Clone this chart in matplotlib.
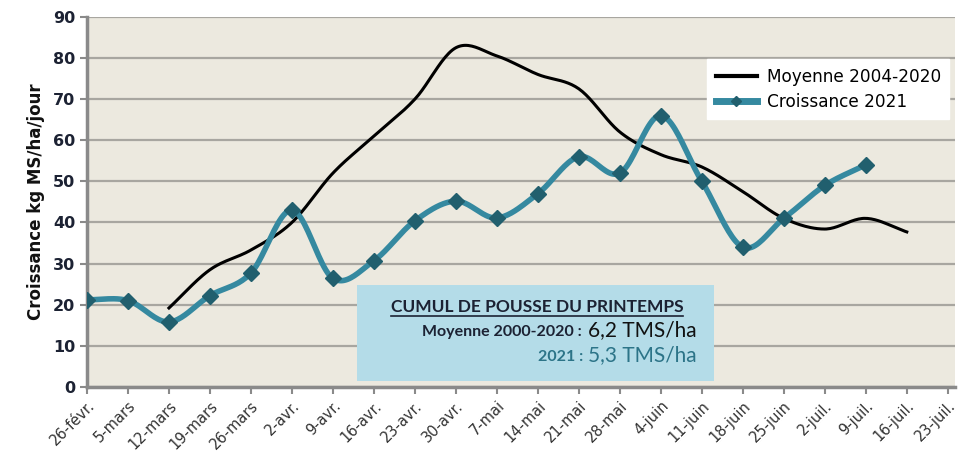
import matplotlib
matplotlib.use("Agg")
import matplotlib.pyplot as plt
from matplotlib.lines import Line2D
import numpy as np

dates = ["26-févr.", "5-mars", "12-mars", "19-mars", "26-mars", "2-avr.", "9-avr.",
         "16-avr.", "23-avr.", "30-avr.", "7-mai", "14-mai", "21-mai", "28-mai",
         "4-juin", "11-juin", "18-juin", "25-juin", "2-juil.", "9-juil.", "16-juil.",
         "23-juil."]

# moyenne 2004-2020, starts at 12-mars
moy_start = 2
moyenne = [19.2, 28.5, 33.3, 40, 52, 61, 70, 82.5, 80.5, 76, 72.5, 62, 56.5, 53.5,
           47.5, 41, 38.4, 41, 37.7]

# croissance 2021, starts at 26-févr.
croissance = [21.2, 21, 15.8, 22.2, 27.7, 43, 26.4, 30.7, 40.4, 45.2, 41.1, 47, 56,
              52, 66, 50, 34, 41, 49, 54]


def smooth(x, y, n=24):
    # catmull-rom, roughly like excel's smoothed lines
    x = np.asarray(x, float)
    y = np.asarray(y, float)
    px = np.concatenate([[2 * x[0] - x[1]], x, [2 * x[-1] - x[-2]]])
    py = np.concatenate([[2 * y[0] - y[1]], y, [2 * y[-1] - y[-2]]])
    xs, ys = [], []
    t = np.linspace(0, 1, n)
    for i in range(1, len(px) - 2):
        for p, out in ((px, xs), (py, ys)):
            p0, p1, p2, p3 = p[i - 1], p[i], p[i + 1], p[i + 2]
            out.extend(0.5 * ((2 * p1) + (-p0 + p2) * t
                              + (2 * p0 - 5 * p1 + 4 * p2 - p3) * t ** 2
                              + (-p0 + 3 * p1 - 3 * p2 + p3) * t ** 3))
    return np.array(xs), np.array(ys)


fig = plt.figure(figsize=(9.61, 4.69), dpi=100)
ax = fig.add_axes([0.0905, 0.175, 0.903, 0.789])
ax.set_facecolor("#ece9df")

xm = np.arange(moy_start, moy_start + len(moyenne))
xc = np.arange(len(croissance))

sx, sy = smooth(xm, moyenne)
ax.plot(sx, sy, color="black", lw=2.2, zorder=3)
sx, sy = smooth(xc, croissance)
ax.plot(sx, sy, color="#3589a0", lw=4, zorder=4)
ax.plot(xc, croissance, ls="none", marker="D", ms=8, color="#215f6e", zorder=5)

ax.set_xlim(0, 21.17)
ax.set_ylim(0, 90)
ax.set_yticks(range(0, 91, 10))
ax.set_xticks(range(len(dates)))
ax.set_xticklabels(dates, rotation=45, ha="right", rotation_mode="anchor",
                   fontsize=10.5, color="#333333")
for lab in ax.get_yticklabels():
    lab.set_fontweight("bold")
    lab.set_fontsize(11.5)
    lab.set_color("#1c2233")
ax.grid(axis="y", color="#a8a6a0", lw=1.6, zorder=1)
ax.set_axisbelow(True)
for s in ("top", "right"):
    ax.spines[s].set_visible(False)
for s in ("left", "bottom"):
    ax.spines[s].set_color("#8a8a8a")
    ax.spines[s].set_linewidth(2.5)
ax.tick_params(axis="both", color="#8a8a8a", width=1.5, length=5)
ax.tick_params(axis="x", pad=3)

ax.set_ylabel("Croissance kg MS/ha/jour", fontsize=12, fontweight="bold",
              color="#111111", labelpad=6)

# legend
h1 = Line2D([], [], color="black", lw=3)
h2 = Line2D([], [], color="#3589a0", lw=5, marker="D", ms=5,
            markerfacecolor="#215f6e", markeredgecolor="#215f6e")
leg = fig.legend([h1, h2], ["Moyenne 2004-2020", "Croissance 2021"],
                 loc="upper left", bbox_to_anchor=(699 / 961, 1 - 51 / 469),
                 fontsize=12.2, frameon=True, fancybox=False, edgecolor="white",
                 framealpha=1, handlelength=2.4, handletextpad=0.6,
                 borderpad=0.5, labelspacing=0.4)

# cumul box
bx0, by0 = 357 / 961, 1 - 381 / 469
bw, bh = (714 - 357) / 961, (381 - 285) / 469
fig.patches.append(plt.Rectangle((bx0, by0), bw, bh, transform=fig.transFigure,
                                 facecolor="#b4dce8", edgecolor="none", zorder=6))
fnt = ["Lato", "DejaVu Sans"]
t = fig.text(537 / 961, 1 - 307 / 469, "CUMUL DE POUSSE DU PRINTEMPS", family=fnt,
             fontsize=12.5, fontweight="bold", color="#1c2233", ha="center",
             va="center", zorder=7)
fig.add_artist(Line2D([391 / 961, 683 / 961], [1 - 316 / 469, 1 - 316 / 469],
                      color="#1c2233", lw=1.2, zorder=7))
v1 = fig.text(697 / 961, 1 - 330 / 469, "6,2 TMS/ha", family=fnt, fontsize=15,
              color="#111111", ha="right", va="center", zorder=7)
v2 = fig.text(697 / 961, 1 - 355 / 469, "5,3 TMS/ha", family=fnt, fontsize=15,
              color="#2c7488", ha="right", va="center", zorder=7)

r = fig.canvas.get_renderer()
x1 = v1.get_window_extent(r).x0 - 7
x2 = v2.get_window_extent(r).x0 - 5
fig.text(x1 / 961, 1 - 332 / 469, "Moyenne 2000-2020 :", family=fnt, fontsize=11.5,
         fontweight="bold", color="#1c2233", ha="right", va="center", zorder=7)
fig.text(x2 / 961, 1 - 357 / 469, "2021 :", family=fnt, fontsize=11.5,
         fontweight="bold", color="#2c7488", ha="right", va="center", zorder=7)

fig.savefig("out.png", dpi=100)
